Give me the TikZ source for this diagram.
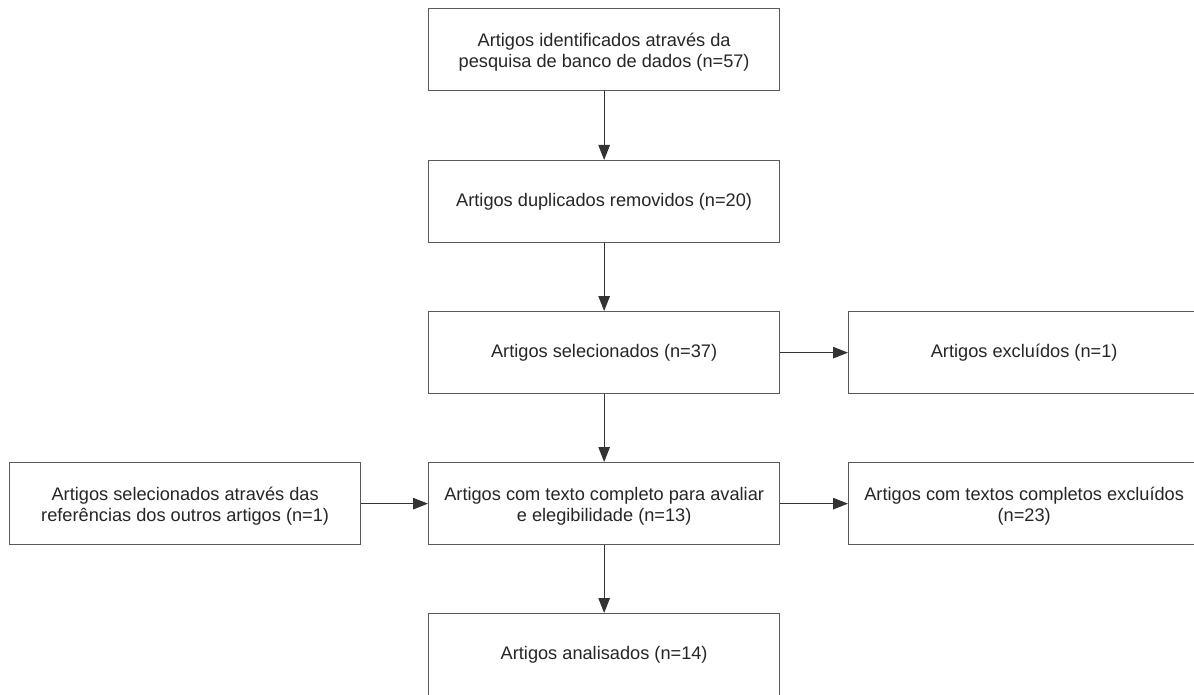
\documentclass[tikz,border=0pt]{standalone}
\usepackage{fontspec}
\setmainfont{Liberation Sans}
\usetikzlibrary{arrows.meta}
\begin{document}
\begin{tikzpicture}[x=1pt,y=-1pt,
  box/.style={draw=black!65,line width=1.3pt,fill=white,minimum width=351pt,minimum height=82pt,
    anchor=north west,inner sep=0pt,align=center,text=black!85,font=\fontsize{18.2}{21.5}\selectfont},
  lbl/.style={inner sep=0pt,align=center,text=black!85,font=\fontsize{18.2}{21}\selectfont},
  arr/.style={draw=black!80,line width=1.1pt,-{Triangle[length=15pt,width=11.5pt]}}]
\useasboundingbox (0,0) rectangle (1194,695);
\clip (0,0) rectangle (1194,695);
\node[box] (b1) at (428,8) {};
\node[lbl] (t1) at ([yshift=-3pt]b1.center) {Artigos identificados através da\\pesquisa de banco de dados (n=57)};
\node[box] (b2) at (428,160) {Artigos duplicados removidos (n=20)};
\node[box] (b3) at (428,311) {Artigos selecionados (n=37)};
\node[box] (r1) at (848,311) {Artigos excluídos (n=1)};
\node[box] (b4) at (428,462) {};
\node[lbl] (t4) at ([yshift=-2.5pt]b4.center) {Artigos com texto completo para avaliar\\e elegibilidade (n=13)};
\node[box] (l1) at (9,462) {};
\node[lbl] (tl1) at ([yshift=-2.5pt]l1.center) {Artigos selecionados através das\\referências dos outros artigos (n=1)};
\node[box] (r2) at (848,462) {};
\node[lbl] (tr2) at ([yshift=-2.5pt]r2.center) {Artigos com textos completos excluídos\\(n=23)};
\node[box] (b5) at (428,613) {Artigos analisados (n=14)};
\draw[arr] (b1) -- (b2);
\draw[arr] (b2) -- (b3);
\draw[arr] (b3) -- (r1);
\draw[arr] (b3) -- (b4);
\draw[arr] (l1) -- (b4);
\draw[arr] (b4) -- (r2);
\draw[arr] (b4) -- (b5);
\end{tikzpicture}
\end{document}
